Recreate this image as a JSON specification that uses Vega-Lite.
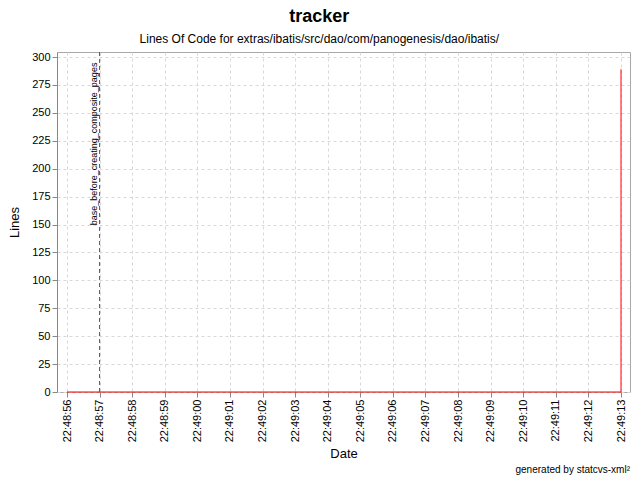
{
  "$schema": "https://vega.github.io/schema/vega-lite/v6.json",
  "autosize": "none",
  "width": 573,
  "height": 340,
  "padding": {"left": 57, "top": 52, "right": 10, "bottom": 88},
  "background": "white",
  "config": {"view": {"stroke": "#a8a8a8"}, "axisY": {"labelOverlap": false}},
  "title": {
    "text": "tracker",
    "subtitle": "Lines Of Code for extras/ibatis/src/dao/com/panogenesis/dao/ibatis/",
    "anchor": "middle",
    "frame": "bounds",
    "fontSize": 18,
    "fontWeight": "bold",
    "color": "#000000",
    "subtitleFontSize": 12,
    "subtitleColor": "#000000",
    "subtitlePadding": 8,
    "offset": 6
  },
  "data": {"values": [
    {"kind": "loc", "date": "2000-01-01T22:48:56", "lines": 0, "step": 1, "label": ""},
    {"kind": "loc", "date": "2000-01-01T22:49:13", "lines": 0, "step": 2, "label": ""},
    {"kind": "loc", "date": "2000-01-01T22:49:13", "lines": 289, "step": 3, "label": ""},
    {"kind": "marker", "date": "2000-01-01T22:48:57", "lines": 295, "step": 1, "label": "base_before_creating_composite_pages"},
    {"kind": "footer", "date": "2000-01-01T22:49:13.276", "lines": -70, "step": 1, "label": "generated by statcvs-xml²"}
  ]},
  "layer": [
    {
      "transform": [{"filter": "datum.kind == 'loc'"}],
      "mark": {"type": "line", "color": "#ff0000", "strokeWidth": 1},
      "encoding": {
        "x": {
          "field": "date",
          "type": "temporal",
          "title": "Date",
          "scale": {
            "domain": [
              {"year": 2000, "month": 1, "date": 1, "hours": 22, "minutes": 48, "seconds": 55, "milliseconds": 693},
              {"year": 2000, "month": 1, "date": 1, "hours": 22, "minutes": 49, "seconds": 13, "milliseconds": 276}
            ]
          },
          "axis": {
            "format": "%H:%M:%S",
            "labelAngle": -90,
            "grid": true,
            "gridDash": [3, 3],
            "gridColor": "#d8d8d8",
            "domain": false,
            "tickColor": "#888888",
            "labelFontSize": 11,
            "labelColor": "#000000",
            "titleFontSize": 13,
            "titleFontWeight": "normal",
            "titlePadding": 6
          }
        },
        "y": {
          "field": "lines",
          "type": "quantitative",
          "title": "Lines",
          "scale": {"domain": [0, 304.5], "nice": false, "zero": false},
          "axis": {
            "values": [0, 25, 50, 75, 100, 125, 150, 175, 200, 225, 250, 275, 300],
            "labelOverlap": false,
            "grid": true,
            "gridDash": [3, 3],
            "gridColor": "#d8d8d8",
            "domainColor": "#888888",
            "tickColor": "#888888",
            "labelFontSize": 11,
            "labelColor": "#000000",
            "titleFontSize": 13,
            "titleFontWeight": "normal",
            "titlePadding": 10
          }
        },
        "order": {"field": "step", "type": "quantitative"}
      }
    },
    {
      "transform": [{"filter": "datum.kind == 'marker'"}],
      "mark": {"type": "rule", "color": "#555555", "strokeDash": [4, 3], "strokeWidth": 1},
      "encoding": {"x": {"field": "date", "type": "temporal"}}
    },
    {
      "transform": [{"filter": "datum.kind == 'marker'"}],
      "mark": {"type": "text", "angle": 270, "align": "right", "baseline": "bottom", "dy": -1, "fontSize": 9, "color": "#000000"},
      "encoding": {
        "x": {"field": "date", "type": "temporal"},
        "y": {
          "field": "lines",
          "type": "quantitative",
          "title": "Lines",
          "scale": {"domain": [0, 304.5], "nice": false, "zero": false},
          "axis": {
            "values": [0, 25, 50, 75, 100, 125, 150, 175, 200, 225, 250, 275, 300],
            "labelOverlap": false,
            "grid": true,
            "gridDash": [3, 3],
            "gridColor": "#d8d8d8",
            "domainColor": "#888888",
            "tickColor": "#888888",
            "labelFontSize": 11,
            "labelColor": "#000000",
            "titleFontSize": 13,
            "titleFontWeight": "normal",
            "titlePadding": 10
          }
        },
        "text": {"field": "label"}
      }
    },
    {
      "transform": [{"filter": "datum.kind == 'footer'"}],
      "mark": {"type": "text", "align": "right", "baseline": "middle", "fontSize": 10, "color": "#000000"},
      "encoding": {
        "x": {"field": "date", "type": "temporal"},
        "y": {
          "field": "lines",
          "type": "quantitative",
          "title": "Lines",
          "scale": {"domain": [0, 304.5], "nice": false, "zero": false},
          "axis": {
            "values": [0, 25, 50, 75, 100, 125, 150, 175, 200, 225, 250, 275, 300],
            "labelOverlap": false,
            "grid": true,
            "gridDash": [3, 3],
            "gridColor": "#d8d8d8",
            "domainColor": "#888888",
            "tickColor": "#888888",
            "labelFontSize": 11,
            "labelColor": "#000000",
            "titleFontSize": 13,
            "titleFontWeight": "normal",
            "titlePadding": 10
          }
        },
        "text": {"field": "label"}
      }
    }
  ]
}
